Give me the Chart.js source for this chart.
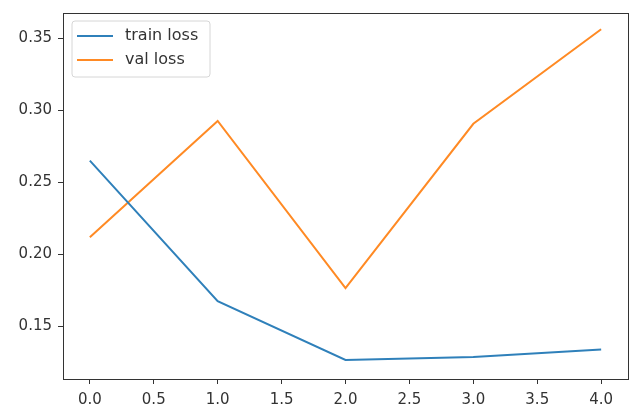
<!DOCTYPE html>
<html>
<head>
<meta charset="utf-8">
<script src="https://cdn.jsdelivr.net/npm/chart.js@4.4.1/dist/chart.umd.min.js"></script>
<style>
  html, body { margin: 0; padding: 0; background: #fff; }
  #wrap { width: 631px; height: 410px; }
</style>
</head>
<body>
<div id="wrap"><canvas id="c"></canvas></div>
<script>
const epochs = [0, 1, 2, 3, 4];
const trainLoss = [0.265, 0.1675, 0.1267, 0.1288, 0.134];
const valLoss = [0.2118, 0.2926, 0.1765, 0.2906, 0.3562];
const xTicks = [0, 0.5, 1, 1.5, 2, 2.5, 3, 3.5, 4];
const yTicks = [0.15, 0.20, 0.25, 0.30, 0.35];

const FONT = 'DejaVu Sans';

// spines + legend inside the axes, matplotlib style
const frameAndLegend = {
    id: 'frameAndLegend',
    afterDraw(chart) {
        const ctx = chart.ctx;
        const a = chart.chartArea;
        ctx.save();
        ctx.strokeStyle = '#333';
        ctx.lineWidth = 1;
        ctx.strokeRect(Math.round(a.left) + 0.5, Math.round(a.top) + 0.5,
            Math.round(a.right - a.left), Math.round(a.bottom - a.top));

        const x0 = a.left + 9, y0 = a.top + 8, w = 138, h = 56, r = 3;
        ctx.beginPath();
        ctx.moveTo(x0 + r, y0);
        ctx.arcTo(x0 + w, y0, x0 + w, y0 + h, r);
        ctx.arcTo(x0 + w, y0 + h, x0, y0 + h, r);
        ctx.arcTo(x0, y0 + h, x0, y0, r);
        ctx.arcTo(x0, y0, x0 + w, y0, r);
        ctx.closePath();
        ctx.fillStyle = 'rgba(255,255,255,0.8)';
        ctx.fill();
        ctx.strokeStyle = '#d6d6d6';
        ctx.stroke();

        ctx.font = '16px ' + FONT;
        ctx.textBaseline = 'middle';
        chart.data.datasets.forEach((ds, i) => {
            const yy = y0 + 15 + i * 24;
            ctx.strokeStyle = ds.borderColor;
            ctx.lineWidth = 2;
            ctx.beginPath();
            ctx.moveTo(x0 + 5, yy);
            ctx.lineTo(x0 + 41, yy);
            ctx.stroke();
            ctx.fillStyle = '#333';
            ctx.fillText(ds.label, x0 + 53, yy);
        });
        ctx.restore();
    }
};

new Chart(document.getElementById('c'), {
    type: 'line',
    data: {
        datasets: [
            {
                label: 'train loss',
                data: epochs.map((e, i) => ({ x: e, y: trainLoss[i] })),
                borderColor: '#2f80ba',
                borderWidth: 2,
                pointRadius: 0,
                tension: 0
            },
            {
                label: 'val loss',
                data: epochs.map((e, i) => ({ x: e, y: valLoss[i] })),
                borderColor: '#ff8a24',
                borderWidth: 2,
                pointRadius: 0,
                tension: 0
            }
        ]
    },
    options: {
        responsive: true,
        maintainAspectRatio: false,
        animation: false,
        layout: { padding: { top: 13, right: 3, left: 0, bottom: 0 } },
        plugins: {
            legend: { display: false },
            tooltip: { enabled: false }
        },
        scales: {
            x: {
                type: 'linear',
                min: -0.21,
                max: 4.21,
                afterBuildTicks: (s) => { s.ticks = xTicks.map(v => ({ value: v })); },
                afterFit: (s) => { s.height = 31; s.paddingLeft = 0; s.paddingRight = 0; },
                grid: { drawOnChartArea: false, drawTicks: true, tickLength: 5, color: '#333' },
                border: { display: false },
                ticks: {
                    color: '#333',
                    font: { family: FONT, size: 15 },
                    padding: 7,
                    maxRotation: 0,
                    callback: (v) => v.toFixed(1)
                }
            },
            y: {
                min: 0.1135,
                max: 0.3675,
                afterBuildTicks: (s) => { s.ticks = yTicks.map(v => ({ value: v })); },
                afterFit: (s) => { s.width = 63; s.paddingTop = 0; s.paddingBottom = 0; },
                grid: { drawOnChartArea: false, drawTicks: true, tickLength: 5, color: '#333' },
                border: { display: false },
                ticks: {
                    color: '#333',
                    font: { family: FONT, size: 15 },
                    padding: 6,
                    callback: (v) => v.toFixed(2)
                }
            }
        }
    },
    plugins: [frameAndLegend]
});
</script>
</body>
</html>
